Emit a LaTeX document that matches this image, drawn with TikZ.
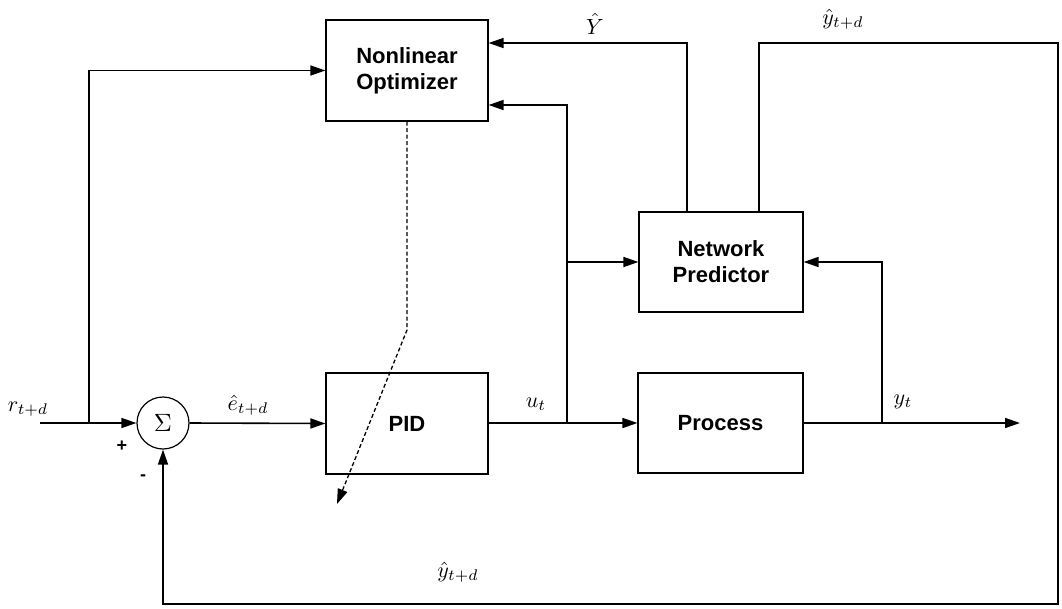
\documentclass[tikz,border=0pt]{standalone}
\usepackage{fontspec}
\newfontfamily\boxfont{Liberation Sans}
\usetikzlibrary{arrows.meta}
\newcommand\mlab[1]{\scalebox{2.2}{$#1$}}
\begin{document}
\begin{tikzpicture}[x=1pt,y=-1pt,
  line width=1.6pt,
  >={Triangle[length=15pt,width=10pt]},
  blk/.style={draw,line width=1.2pt,inner sep=0pt,minimum width=162pt,minimum height=101pt,
    align=center,font=\boxfont\bfseries\fontsize{22}{26}\selectfont},
  lbl/.style={inner sep=0pt},
  sgn/.style={inner sep=0pt,font=\boxfont\bfseries\fontsize{18}{20}\selectfont}]
\useasboundingbox (0,0) rectangle (1062,608);
% blocks
\node[blk] (opt) at (407,70.5) {Nonlinear\\Optimizer};
\node[blk,minimum width=164pt,minimum height=100pt] (net) at (721,262) {Network\\Predictor};
\node[blk] (pid) at (407,423.5) {PID};
\node[blk,minimum width=165pt,minimum height=100pt] (proc) at (720.5,423) {Process};
\node[draw,circle,line width=1.2pt,minimum size=52pt,inner sep=0pt] (sum) at (163,423) {\scalebox{2.5}{$\Sigma$}};
% coordinates
\coordinate (rin) at (40,423);
\coordinate (b1) at (89,423);
\coordinate (b2) at (567,423);
\coordinate (b3) at (882,423);
\coordinate (yout) at (1020,423);
\coordinate (cTR) at (1058,43);
\coordinate (cBR) at (1058,604);
\coordinate (cBL) at (163,604);
\coordinate (dk) at (407,330);
\coordinate (dtip) at (337,504);
% connectors
\draw[->] (rin) -- (sum.west);
\draw[->] (b1) |- (opt.west);
\draw[->] (sum.east) -- (pid.west);
\draw[->] (pid.east |- b2) -- (proc.west |- b2);
\draw[->] (b2) |- ([yshift=-34.5pt]opt.east);
\draw[->] (b2 |- net.west) -- (net.west);
\draw[->] ([xshift=-34pt]net.north) |- ([yshift=27.5pt]opt.east);
\draw[->] ([xshift=38pt]net.north) |- (cTR) -- (cBR) -- (cBL) -- (sum.south);
\draw[->] (proc.east |- b3) -- (yout);
\draw[->] (b3) |- (net.east);
\draw[line width=1.3pt,dash pattern=on 4pt off 2.5pt,->] (opt.south) -- (dk) -- (dtip);
% labels
\node[lbl] (lr) at (28,409) {\mlab{r_{t+d}}};
\node[sgn] (lplus) at (122,446) {+};
\node[sgn] (lminus) at (143,478) {-};
\node[lbl] (le) at (248,405) {\mlab{\hat{e}_{t+d}}};
\node[lbl] (lu) at (536,404) {\mlab{u_t}};
\node[lbl] (lY) at (595,24) {\mlab{\hat{Y}}};
\node[lbl] (lyt) at (843,19) {\mlab{\hat{y}_{t+d}}};
\node[lbl] (ly) at (903,402) {\mlab{y_t}};
\node[lbl] (lyb) at (458,572) {\mlab{\hat{y}_{t+d}}};
\end{tikzpicture}
\end{document}
